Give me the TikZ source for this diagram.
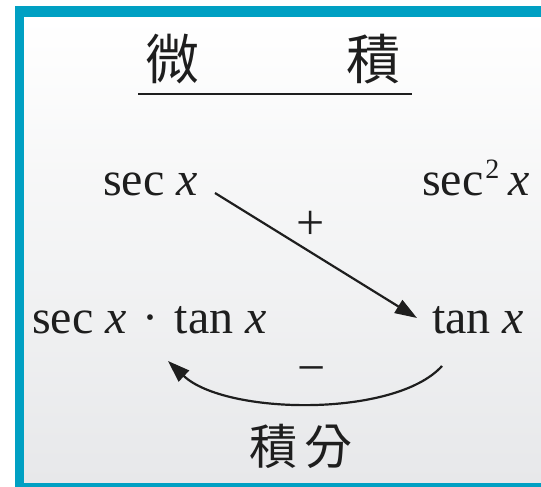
\documentclass[tikz,border=0pt]{standalone}
\usepackage{fontspec}
\setmainfont{Liberation Serif}
\newfontfamily\cjk{Noto Sans CJK TC}
\usetikzlibrary{arrows.meta}
\definecolor{framecyan}{RGB}{0,160,195}
\definecolor{bggray}{RGB}{231,232,234}
\definecolor{inkgray}{RGB}{30,30,30}
\begin{document}
\begin{tikzpicture}[x=1pt,y=-1pt,
 mathlabel/.style={inner sep=0pt, anchor=base west, font=\fontsize{48}{48}\selectfont, text=inkgray},
 signlabel/.style={inner sep=0pt, anchor=base, font=\fontsize{50}{50}\selectfont, text=inkgray},
 cjklabel/.style={inner sep=0pt, font=\cjk\fontsize{54}{54}\selectfont, text=inkgray},
 cjksmall/.style={inner sep=0pt, font=\cjk\fontsize{48}{48}\selectfont, text=inkgray},
 arrowline/.style={line width=2.2pt, draw=inkgray, -{Triangle[length=22pt,width=15pt]}},
]
\useasboundingbox (0,0) rectangle (541,487);
\shade[top color=white, bottom color=bggray] (24,17) rectangle (541,483);
\fill[framecyan] (15,6) rectangle (541,17);
\fill[framecyan] (15,6) rectangle (24,487);
\fill[framecyan] (15,483) rectangle (541,487);

\node[cjklabel] (wei) at (172,59) {微};
\node[cjklabel] (ji) at (373,59) {積};
\draw[line width=1.5pt, inkgray] (138,94) -- (412,94);

\node[mathlabel] (secx) at (103,195) {sec \textit{x}};
\node[mathlabel] (sec2x) at (422,195) {sec\hspace{2pt}\raisebox{17pt}{\fontsize{28}{28}\selectfont 2}\hspace{9pt}\textit{x}};
\node[mathlabel] (tanx) at (432,333) {tan \textit{x}};
\node[mathlabel] (sectan) at (32,333) {sec \textit{x}\hspace{16pt}·\hspace{16pt}tan \textit{x}};

\node[signlabel] (plus) at (311,239) {+};
\node[signlabel] (minus) at (312,384) {−};
\node[cjksmall] (jifen) at (301,446) {積\hspace{8pt}分};

\draw[arrowline] ([xshift=17pt,yshift=2pt]secx.base east) -- ([xshift=-15pt,yshift=15pt]tanx.base west);
\draw[arrowline] ([xshift=10pt,yshift=-33pt]tanx.base west) .. controls (395,418) and (225,415) .. ([xshift=136pt,yshift=-28pt]sectan.base west);
\end{tikzpicture}
\end{document}
